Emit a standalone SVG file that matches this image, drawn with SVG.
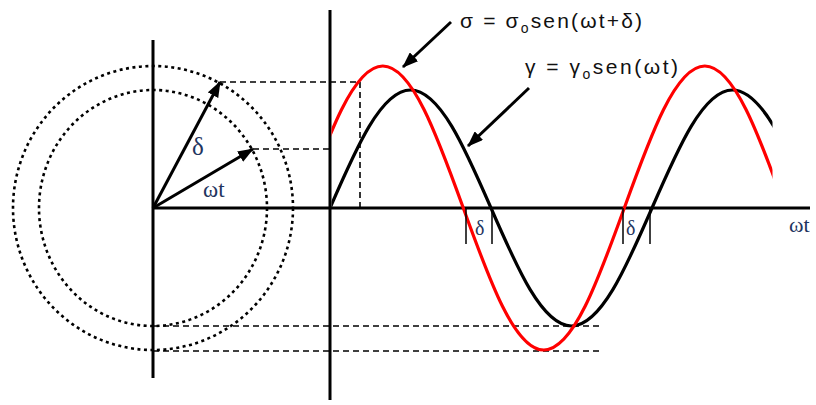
<svg xmlns="http://www.w3.org/2000/svg" width="816" height="405" viewBox="0 0 816 405">
<style>
.axis{stroke:#000;stroke-width:3;fill:none}
.dash{stroke:#000;stroke-width:1.6;stroke-dasharray:6 4;fill:none}
.dot{stroke:#000;stroke-width:2.6;stroke-dasharray:3 3.5;fill:none}
.tick{stroke:#000;stroke-width:1.5}
.arr{stroke:#000;stroke-width:3;fill:none;marker-end:url(#ah)}
.serif{font-family:"Liberation Serif","Times New Roman",serif;fill:#1f3560}
.sans{font-family:"Liberation Sans",Arial,sans-serif;fill:#111}
</style>
<defs>
<marker id="ah" markerUnits="userSpaceOnUse" markerWidth="16" markerHeight="12" refX="15" refY="6" orient="auto">
<path d="M0,0 L16,6 L0,12 z" fill="#000"/>
</marker>
<clipPath id="plot"><rect x="331.5" y="0" width="441" height="405"/></clipPath>
</defs>
<rect width="816" height="405" fill="#fff"/>
<g id="circles">
<ellipse class="dot" cx="153" cy="208" rx="140" ry="142"/>
<ellipse class="dot" cx="153" cy="208" rx="114" ry="118"/>
</g>
<g id="projections">
<line class="dash" x1="220" y1="82" x2="360" y2="82"/>
<line class="dash" x1="360" y1="82" x2="360" y2="208"/>
<line class="dash" x1="253" y1="149" x2="330" y2="149"/>
<line class="dash" x1="153" y1="326" x2="600" y2="326"/>
<line class="dash" x1="153" y1="351" x2="600" y2="351"/>
</g>
<g id="axes">
<line class="axis" x1="153" y1="40" x2="153" y2="378"/>
<line class="axis" x1="330" y1="10" x2="330" y2="400"/>
<line class="axis" x1="153" y1="208" x2="810" y2="208"/>
</g>
<g id="curves" clip-path="url(#plot)">
<path id="gamma-curve" d="M330,208 C356.25,147.55 381.37,90 410.5,90 S464.75,147.55 491,208 S542.37,326 571.5,326 S625.75,268.45 652,208 S703.37,90 732.5,90 S786.75,147.55 813,208" stroke="#000" stroke-width="3.2" fill="none"/>
<path id="sigma-curve" d="M302.3,208 C328.55,135.25 353.67,66 382.8,66 S437.05,135.25 463.3,208 S514.67,350 543.8,350 S598.05,280.75 624.3,208 S675.67,66 704.8,66 S759.05,135.25 785.3,208" stroke="#f00" stroke-width="3.2" fill="none"/>
</g>
<g id="delta-ticks">
<line class="tick" x1="466" y1="208" x2="466" y2="244"/>
<line class="tick" x1="492" y1="208" x2="492" y2="244"/>
<line class="tick" x1="623" y1="208" x2="623" y2="244"/>
<line class="tick" x1="650" y1="208" x2="650" y2="244"/>
</g>
<g id="connectors">
<line class="arr" x1="153" y1="208" x2="220" y2="82"/>
<line class="arr" x1="153" y1="208" x2="253" y2="149"/>
<line class="arr" x1="451" y1="22" x2="403" y2="67"/>
<line class="arr" x1="529" y1="88" x2="468" y2="146"/>
</g>
<g id="labels">
<text class="serif" x="192" y="155" font-size="25">δ</text>
<text class="serif" x="203" y="197" font-size="23">ωt</text>
<text class="serif" x="475" y="235" font-size="20">δ</text>
<text class="serif" x="626" y="235" font-size="20">δ</text>
<text class="serif" x="789" y="232" font-size="22">ωt</text>
<text class="sans" x="460" y="28" font-size="21" textLength="182" lengthAdjust="spacing">σ = σ<tspan font-size="14" dy="5">o</tspan><tspan dy="-5">sen(ωt+δ)</tspan></text>
<text class="sans" x="525" y="74" font-size="21" textLength="153" lengthAdjust="spacing">γ = γ<tspan font-size="14" dy="5">o</tspan><tspan dy="-5">sen(ωt)</tspan></text>
</g>
</svg>
